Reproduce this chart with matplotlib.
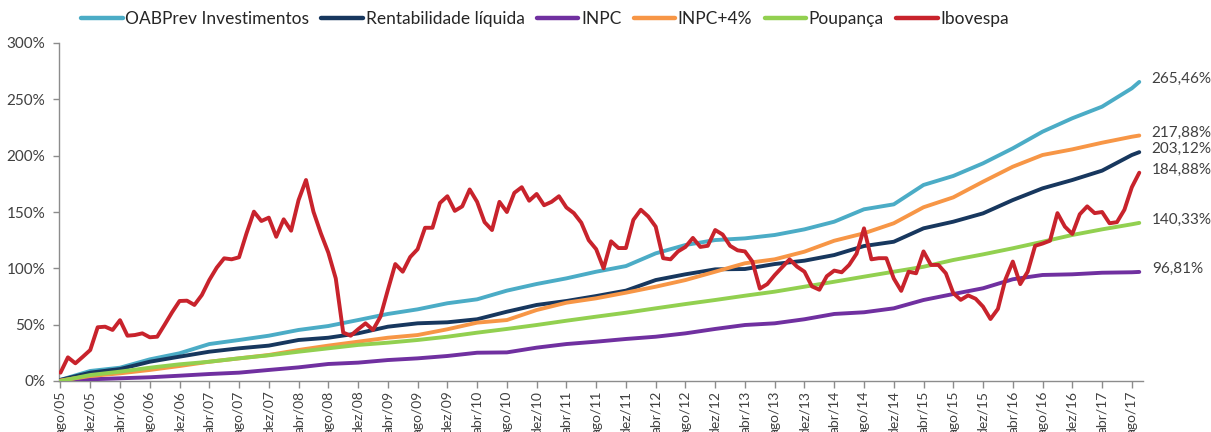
import matplotlib
matplotlib.use("Agg")
import matplotlib.pyplot as plt
from matplotlib.ticker import FixedLocator, FuncFormatter

# ---------------- data ----------------
months_pt = ["jan", "fev", "mar", "abr", "mai", "jun", "jul", "ago", "set", "out", "nov", "dez"]
start_month = 7      # ago (0-based index in months_pt)
start_year = 2005
n_months = 146       # ago/05 .. set/17

series_names = ["OABPrev Investimentos", "Rentabilidade líquida", "INPC", "INPC+4%", "Poupança", "Ibovespa"]

# smooth series read every 4 months (+ last month)
idx_smooth = list(range(0, 145, 4)) + [145]

oabprev = [1, 8.9, 11.8, 19.2, 24.6, 32.8, 36.4, 40.2, 45.3, 48.8, 54.1, 59.5, 63.6, 69, 72.5,
           80.2, 86.1, 91.1, 97, 102, 113.3, 120.7, 125.1, 126.6, 129.6, 134.6, 141.4, 152.4,
           156.8, 174, 182, 193.2, 206.5, 221.3, 233.2, 243.5, 259.8, 265.46]
rentab = [1, 7.4, 10.6, 17.1, 21.6, 26, 29, 31.4, 36.4, 38.4, 42.3, 48.2, 51.2, 52.1, 54.8,
          61.5, 67.5, 71, 75.4, 80.2, 89.6, 94.7, 99.1, 99.4, 103.8, 106.8, 111.8, 119.8,
          123.6, 135.5, 141.4, 148.8, 160.6, 171, 178.4, 186.7, 200.6, 203.12]
inpc = [0, 1.5, 2.4, 3.3, 4.7, 6.2, 7.4, 9.8, 12.1, 15.1, 16.3, 18.6, 20.1, 22.2, 25.1,
        25.4, 29.6, 32.8, 34.9, 37.3, 39.3, 42.3, 46.2, 49.7, 51.2, 54.8, 59.5, 61, 64.5,
        71.9, 77.2, 82.3, 90.3, 94.1, 94.7, 96.1, 96.5, 96.81]
inpc4 = [0.5, 4.4, 6.8, 9.8, 13.3, 17.1, 20.1, 23.1, 27.5, 31.4, 34.9, 38.4, 40.8, 45.9, 51.8,
         54.1, 63, 69.5, 73.4, 78.4, 83.7, 89.6, 97, 104.5, 108, 114.8, 124.5, 131.1, 140,
         154.2, 163, 176.9, 190.2, 200.6, 205.6, 211.5, 216.8, 217.88]
poupanca = [0, 5.3, 8.3, 11.8, 14.8, 17.1, 20.1, 22.8, 26, 29, 32, 34, 36.4, 39.3, 42.9,
            46.2, 49.7, 53.5, 57.1, 60.6, 64.5, 68.3, 71.9, 75.7, 79.3, 83.7, 88.1, 92.6, 97,
            101.4, 107.4, 112.4, 117.8, 123.6, 129.6, 134.6, 139.1, 140.33]

# Ibovespa monthly
ibovespa = [7.4, 21, 15.7, 21.5, 27.5, 47.7, 48.2, 45.3, 54, 40.2, 40.8, 42.3, 38.8, 39.3, 50,
            61, 71, 71.3, 67.5, 76.3, 89.6, 100.6, 108.9, 108, 109.8, 131, 150.3, 142, 145,
            128, 143.5, 133.4, 160.6, 178.4, 150.3, 131, 113.9, 91, 43, 40.2, 45.9, 51.2,
            45.3, 57, 80.8, 103.8, 97, 110, 117, 136, 136, 158, 164, 151, 155, 170, 159, 141,
            134, 159, 150, 167, 172, 160, 166, 156, 159, 164, 154, 149, 140.5, 125, 117, 100,
            124, 118, 118, 143, 152, 146, 137, 109, 108, 115, 119, 127, 119, 120, 134, 130,
            120, 116, 115, 106, 82, 86, 94, 101, 108, 101.5, 97, 84, 81, 93, 98, 96.5, 103,
            113, 135.5, 108, 109, 109, 91, 80, 97, 95.6, 115, 103, 103, 95.6, 78, 72, 76, 73,
            66, 55, 64, 90, 106, 86, 97, 120, 122, 124.5, 149, 137, 130.5, 148, 155, 149, 150,
            140, 141, 152, 172, 184.88]

end_labels = ["265,46%", "203,12%", "96,81%", "217,88%", "140,33%", "184,88%"]
yticks = [0, 50, 100, 150, 200, 250, 300]

colors = ["#4BACC6", "#17375E", "#7030A0", "#F79646", "#92D050", "#C8232C"]

# ---------------- figure ----------------
plt.rcParams['font.family'] = ['Lato', 'DejaVu Sans']
W, H = 1211, 432
fig = plt.figure(figsize=(W / 100, H / 100), dpi=100)
ax = fig.add_axes([59 / W, 1 - 381 / H, (1143 - 59) / W, (381 - 43) / H])

idx_ibov = list(range(len(ibovespa)))
data = [(idx_smooth, oabprev), (idx_smooth, rentab), (idx_smooth, inpc),
        (idx_smooth, inpc4), (idx_smooth, poupanca), (idx_ibov, ibovespa)]

draw_order = [2, 4, 3, 1, 0, 5]
handles = {}
for k in draw_order:
    xs, ys = data[k]
    ln, = ax.plot(xs, ys, color=colors[k], lw=2.8, solid_joinstyle='round',
                  solid_capstyle='round', label=series_names[k], zorder=3 + k)
    handles[k] = ln

text_color = "#404040"
# end labels
for k in range(6):
    xs, ys = data[k]
    ax.annotate(end_labels[k], xy=(xs[-1], ys[-1]), xytext=(9, 2), textcoords='offset points',
                va='center', ha='left', fontsize=11, color=text_color, annotation_clip=False)

ax.set_ylim(0, 300)
ax.set_xlim(-0.2, 145.5)
ax.yaxis.set_major_locator(FixedLocator(yticks))
ax.yaxis.set_major_formatter(FuncFormatter(lambda v, p: f"{int(v)}%"))

tick_idx = list(range(0, n_months, 4))
def lab(i):
    m = (start_month + i) % 12
    y = start_year + (start_month + i) // 12
    return f"{months_pt[m]}/{y % 100:02d}"
ax.set_xticks(tick_idx)
ax.set_xticklabels([lab(i) for i in tick_idx], rotation=90, fontsize=10, color=text_color)

for s in ['top', 'right']:
    ax.spines[s].set_visible(False)
for s in ['left', 'bottom']:
    ax.spines[s].set_color('#8c8c8c')
    ax.spines[s].set_linewidth(1.0)
ax.tick_params(axis='y', colors='#8c8c8c', labelcolor=text_color, labelsize=11, length=4, width=1, pad=6)
ax.tick_params(axis='x', colors='#8c8c8c', labelcolor=text_color, length=5, width=1, pad=2)

leg = fig.legend([handles[k] for k in range(6)], series_names, loc='center',
                 bbox_to_anchor=(545 / W, 1 - 19 / H), ncol=6, frameon=False,
                 fontsize=12.5, handlelength=2.4, handletextpad=0.15, columnspacing=0.7,
                 labelcolor='#262626')
for l in leg.get_lines():
    l.set_linewidth(3.2)

fig.savefig("out.png", dpi=100)
